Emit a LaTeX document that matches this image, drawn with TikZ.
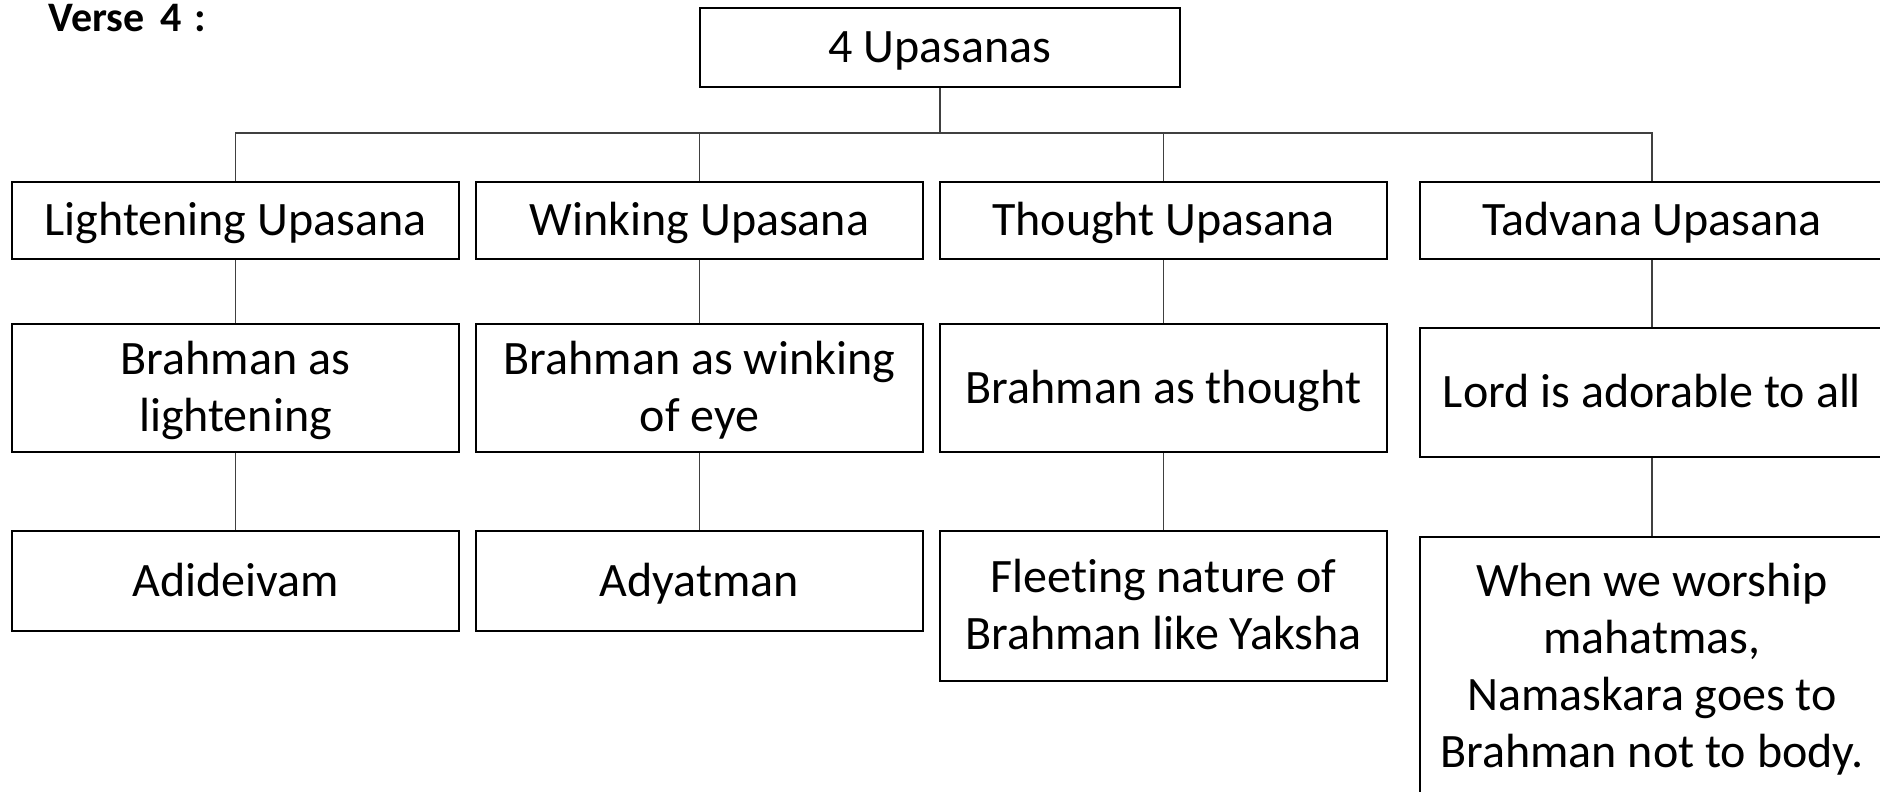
\documentclass[tikz,border=0pt]{standalone}
\usepackage{fontspec}
\setmainfont{Carlito}[Ligatures=NoCommon]
% strut that fixes the line box of the first and last text lines
\newcommand\lnstrut{\rule[-6.5pt]{0pt}{28pt}}
\begin{document}
\begin{tikzpicture}[x=0.5pt,y=-0.5pt,
  box/.style={draw=black,line width=1pt,fill=white,inner sep=0pt,align=center,
    font=\fontsize{24}{28.5}\selectfont},
  link/.style={draw=black!75,line width=0.8pt}]
\useasboundingbox (0,0) rectangle (1880,792);
\clip (0,0) rectangle (1880,792);

% title
\node[anchor=base west,inner sep=0pt,font=\bfseries\fontsize{21}{24}\selectfont] (verse) at (48,32) {Verse\hspace{8pt}4\hspace{6.5pt}:};

% root
\node[box,minimum width=240pt,minimum height=39.5pt] (top) at (940,47.5) {\lnstrut 4 Upasanas};

% first level
\node[box,minimum width=223.5pt,minimum height=38.5pt] (b1) at (235.5,220.5) {\lnstrut Lightening Upasana};
\node[box,minimum width=223.5pt,minimum height=38.5pt] (b2) at (699.5,220.5) {\lnstrut Winking Upasana};
\node[box,minimum width=223.5pt,minimum height=38.5pt] (b3) at (1163.5,220.5) {\lnstrut Thought Upasana};
\node[box,minimum width=232pt,minimum height=38.5pt] (b4) at (1652,220.5) {\lnstrut Tadvana Upasana};

% second level
\node[box,minimum width=223.5pt,minimum height=64pt] (c1) at (235.5,388) {\lnstrut Brahman as\\\lnstrut lightening};
\node[box,minimum width=223.5pt,minimum height=64pt] (c2) at (699.5,388) {\lnstrut Brahman as winking\\\lnstrut of eye};
\node[box,minimum width=223.5pt,minimum height=64pt] (c3) at (1163.5,388) {\lnstrut Brahman as thought};
\node[box,minimum width=232pt,minimum height=64.5pt] (c4) at (1652,392.5) {\lnstrut Lord is adorable to all};

% third level
\node[box,minimum width=223.5pt,minimum height=50pt] (d1) at (235.5,581) {\lnstrut Adideivam};
\node[box,minimum width=223.5pt,minimum height=50pt] (d2) at (699.5,581) {\lnstrut Adyatman};
\node[box,minimum width=223.5pt,minimum height=75pt] (d3) at (1163.5,606) {\lnstrut Fleeting nature of\\\lnstrut Brahman like Yaksha};
\node[box,minimum width=232pt,minimum height=129.5pt] (d4) at (1652,666.5) {\lnstrut When we worship\\mahatmas,\\Namaskara goes to\\\lnstrut Brahman not to body.};

% connectors
\coordinate (bar) at (940,133);
\draw[link] (top.south) -- (bar);
\draw[link] (b1.north) -- (b1.north |- bar) -- (b4.north |- bar) -- (b4.north);
\draw[link] (b2.north) -- (b2.north |- bar);
\draw[link] (b3.north) -- (b3.north |- bar);
\draw[link] (b1.south) -- (c1.north);
\draw[link] (b2.south) -- (c2.north);
\draw[link] (b3.south) -- (c3.north);
\draw[link] (b4.south) -- (c4.north);
\draw[link] (c1.south) -- (d1.north);
\draw[link] (c2.south) -- (d2.north);
\draw[link] (c3.south) -- (d3.north);
\draw[link] (c4.south) -- (d4.north);
\end{tikzpicture}
\end{document}
